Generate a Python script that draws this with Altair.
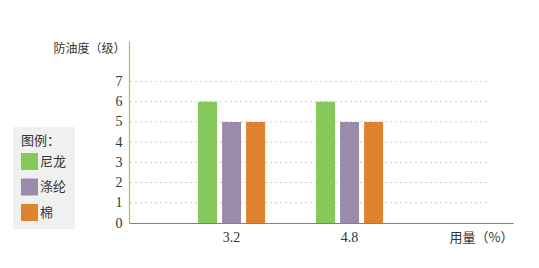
import altair as alt
import pandas as pd

# ---- data ----
dosages = ["3.2", "4.8"]
materials = ["尼龙", "涤纶", "棉"]
nylon = [6, 6]
polyester = [5, 5]
cotton = [5, 5]
colors = ["#86c859", "#9b8bab", "#e0832f"]
grid_levels = [1, 2, 3, 4, 5, 6, 7]
y_ticks = [0, 1, 2, 3, 4, 5, 6, 7]

rows = []
for name, vals in zip(materials, [nylon, polyester, cotton]):
    for d, v in zip(dosages, vals):
        rows.append({"dosage": d, "material": name, "level": v})
df = pd.DataFrame(rows)
grid_df = pd.DataFrame({"level": grid_levels})

CJK = "Noto Sans CJK SC"
NUM = "Liberation Serif"
TXT = "#333333"
Y_LINE = "#96d620"
X_LINE = "#4a8fcc"

yscale = alt.Scale(domain=[0, 9], nice=False, zero=True)
y_axis = alt.Axis(
    values=y_ticks, grid=False, ticks=False, domainColor=Y_LINE, domainWidth=1.2,
    labelPadding=7, labelFont=NUM, labelFontSize=14, labelColor=TXT,
    title="防油度（级）", titleAngle=0, titleAlign="right", titleX=-4,
    titleY=7, titleBaseline="middle", titleFont=CJK, titleFontSize=12,
    titleFontWeight="normal", titleColor=TXT, zindex=1,
)

grid = alt.Chart(grid_df).mark_rule(
    color="#cccccc", strokeDash=[2, 3], strokeWidth=1
).encode(
    y=alt.Y("level:Q", scale=yscale, axis=y_axis),
    x=alt.value(1),
    x2=alt.value(358),
)

bars = alt.Chart(df).mark_bar().encode(
    x=alt.X(
        "dosage:N",
        sort=dosages,
        scale=alt.Scale(domain=dosages, paddingInner=0.432, paddingOuter=0.843, align=0.347),
        axis=alt.Axis(
            title="用量（%）", labelAngle=0, ticks=False, domainColor=X_LINE,
            domainWidth=1.2, labelPadding=7, labelFont=NUM, labelFontSize=14,
            labelColor=TXT, titleFont=CJK, titleFontSize=13, titleFontWeight="normal",
            titleColor=TXT, titleX=352, titleY=14, titleAlign="center",
            titleBaseline="middle", zindex=1,
        ),
    ),
    xOffset=alt.XOffset(
        "material:N", sort=materials,
        scale=alt.Scale(domain=materials, paddingInner=0.21, paddingOuter=0),
    ),
    y=alt.Y("level:Q", scale=yscale, axis=y_axis),
    color=alt.Color(
        "material:N",
        sort=materials,
        scale=alt.Scale(domain=materials, range=colors),
        legend=alt.Legend(
            title="图例：", orient="none", legendX=-116, legendY=86,
            fillColor="#f0f0f0", padding=8, symbolType="square", symbolSize=289,
            symbolStrokeWidth=0, symbolOpacity=1, labelFont=CJK, labelFontSize=13,
            labelColor=TXT, titleFont=CJK, titleFontSize=13,
            titleFontWeight="normal", titleColor=TXT, rowPadding=8.5,
            titlePadding=5, labelOffset=2,
        ),
    ),
)

chart = (
    alt.layer(grid, bars)
    .properties(
        width=384,
        height=182,
        padding={"left": 129, "top": 41, "right": 26, "bottom": 45},
        autosize=alt.AutoSizeParams(type="none"),
        background="white",
    )
    .configure_view(stroke=None)
)

chart.save("out.html", embed_options={"renderer": "svg", "actions": False})
